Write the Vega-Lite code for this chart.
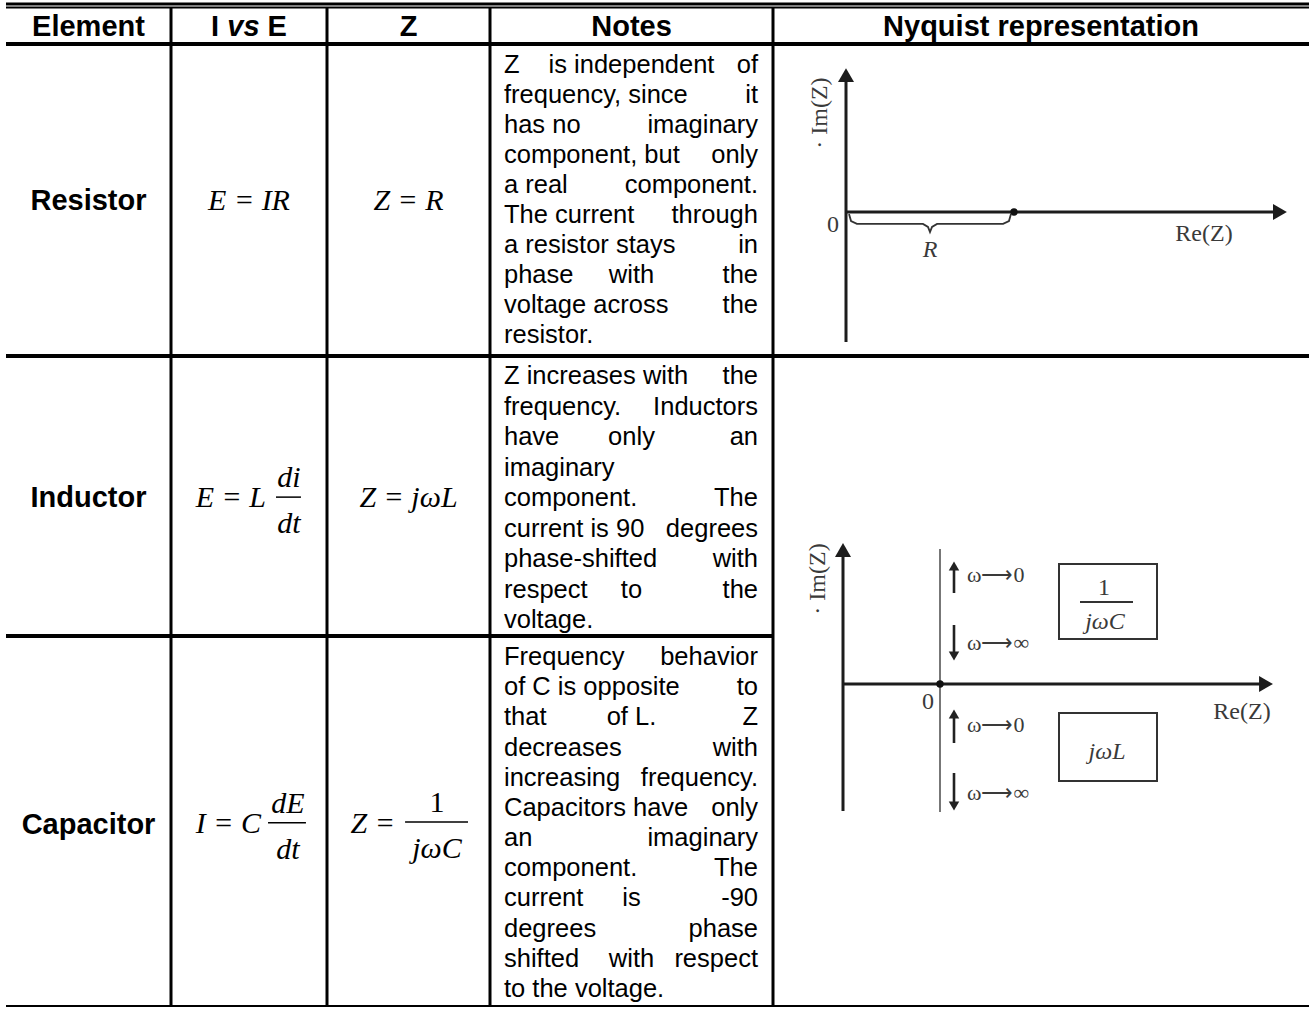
{
"$schema":"https://vega.github.io/schema/vega-lite/v6.json",
"width":1309,"height":1009,"autosize":"none","padding":0,"background":"white",
"config":{"view":{"stroke":null}},
"datasets":{
"grid":[
{"kind":"medium","c1":0,"c2":5,"r1":-1,"r2":-1},
{"kind":"light","c1":0,"c2":5,"r1":0,"r2":0},
{"kind":"heavy","c1":0,"c2":5,"r1":1,"r2":1},
{"kind":"heavy","c1":0,"c2":5,"r1":2,"r2":2},
{"kind":"heavy","c1":0,"c2":4,"r1":3,"r2":3},
{"kind":"light","c1":0,"c2":5,"r1":4,"r2":4},
{"kind":"medium","c1":1,"c2":1,"r1":0,"r2":4},
{"kind":"medium","c1":2,"c2":2,"r1":0,"r2":4},
{"kind":"medium","c1":3,"c2":3,"r1":0,"r2":4},
{"kind":"medium","c1":4,"c2":4,"r1":0,"r2":4}
],
"cells":[
{"style":"bold","text":"Element","cx":0.5,"ry":0.79},
{"style":"bold","text":"I","cx":1.282,"ry":0.79},
{"style":"bolditalic","text":"vs","cx":1.464,"ry":0.79},
{"style":"bold","text":"E","cx":1.681,"ry":0.79},
{"style":"bold","text":"Z","cx":2.5,"ry":0.79},
{"style":"bold","text":"Notes","cx":3.5,"ry":0.79},
{"style":"bold","text":"Nyquist representation","cx":4.5,"ry":0.79},
{"style":"bold","text":"Resistor","cx":0.5,"ry":1.533},
{"style":"bold","text":"Inductor","cx":0.5,"ry":2.541},
{"style":"bold","text":"Capacitor","cx":0.5,"ry":3.534},
{"style":"math","text":"E = IR","cx":1.5,"ry":1.532},
{"style":"math","text":"Z = R","cx":2.5,"ry":1.532},
{"style":"math","text":"Z = jωL","cx":2.5,"ry":2.539},
{"style":"math","text":"di","cx":1.756,"ry":2.468},
{"style":"math","text":"dt","cx":1.756,"ry":2.632},
{"style":"math","text":"dE","cx":1.75,"ry":3.478},
{"style":"math","text":"dt","cx":1.75,"ry":3.603},
{"style":"math","text":"jωC","cx":2.675,"ry":3.6},
{"style":"mathroman","text":"1","cx":2.675,"ry":3.476},
{"style":"mathright","text":"E = L","cx":1.609,"ry":2.539},
{"style":"mathright","text":"I = C","cx":1.577,"ry":3.532},
{"style":"mathright","text":"Z =","cx":2.417,"ry":3.532}
],
"bars":[
{"c1":1.673,"c2":1.833,"r":2.504},
{"c1":1.622,"c2":1.865,"r":3.505},
{"c1":2.479,"c2":2.865,"r":3.503}
],
"notes":[
{"n":1,"part":"head","text":"Z"},{"n":1,"part":"mid","text":"is independent"},{"n":1,"part":"tail","text":"of"},
{"n":2,"part":"head","text":"frequency, since"},{"n":2,"part":"tail","text":"it"},
{"n":3,"part":"head","text":"has no"},{"n":3,"part":"tail","text":"imaginary"},
{"n":4,"part":"head","text":"component, but"},{"n":4,"part":"tail","text":"only"},
{"n":5,"part":"head","text":"a real"},{"n":5,"part":"tail","text":"component."},
{"n":6,"part":"head","text":"The current"},{"n":6,"part":"tail","text":"through"},
{"n":7,"part":"head","text":"a resistor stays"},{"n":7,"part":"tail","text":"in"},
{"n":8,"part":"head","text":"phase"},{"n":8,"part":"mid","text":"with"},{"n":8,"part":"tail","text":"the"},
{"n":9,"part":"head","text":"voltage across"},{"n":9,"part":"tail","text":"the"},
{"n":10,"part":"head","text":"resistor."},
{"n":11,"part":"head","text":"Z increases with"},{"n":11,"part":"tail","text":"the"},
{"n":12,"part":"head","text":"frequency."},{"n":12,"part":"tail","text":"Inductors"},
{"n":13,"part":"head","text":"have"},{"n":13,"part":"mid","text":"only"},{"n":13,"part":"tail","text":"an"},
{"n":14,"part":"head","text":"imaginary"},
{"n":15,"part":"head","text":"component."},{"n":15,"part":"tail","text":"The"},
{"n":16,"part":"head","text":"current is 90"},{"n":16,"part":"tail","text":"degrees"},
{"n":17,"part":"head","text":"phase-shifted"},{"n":17,"part":"tail","text":"with"},
{"n":18,"part":"head","text":"respect"},{"n":18,"part":"mid","text":"to"},{"n":18,"part":"tail","text":"the"},
{"n":19,"part":"head","text":"voltage."},
{"n":20,"part":"head","text":"Frequency"},{"n":20,"part":"tail","text":"behavior"},
{"n":21,"part":"head","text":"of C is opposite"},{"n":21,"part":"tail","text":"to"},
{"n":22,"part":"head","text":"that"},{"n":22,"part":"mid","text":"of L."},{"n":22,"part":"tail","text":"Z"},
{"n":23,"part":"head","text":"decreases"},{"n":23,"part":"tail","text":"with"},
{"n":24,"part":"head","text":"increasing"},{"n":24,"part":"tail","text":"frequency."},
{"n":25,"part":"head","text":"Capacitors have"},{"n":25,"part":"tail","text":"only"},
{"n":26,"part":"head","text":"an"},{"n":26,"part":"tail","text":"imaginary"},
{"n":27,"part":"head","text":"component."},{"n":27,"part":"tail","text":"The"},
{"n":28,"part":"head","text":"current"},{"n":28,"part":"mid","text":"is"},{"n":28,"part":"tail","text":"-90"},
{"n":29,"part":"head","text":"degrees"},{"n":29,"part":"tail","text":"phase"},
{"n":30,"part":"head","text":"shifted"},{"n":30,"part":"mid","text":"with"},{"n":30,"part":"tail","text":"respect"},
{"n":31,"part":"head","text":"to the voltage."}
],
"nyq1":[
{"el":"axis","re":0,"im":0,"re2":2.56,"im2":0},
{"el":"axis","re":0,"im":-0.774,"re2":0,"im2":0.8},
{"el":"head","re":2.583,"im":0,"dir":"right"},
{"el":"head","re":0,"im":0.815,"dir":"up"},
{"el":"dot","re":1,"im":0},
{"el":"brace","k":1,"re":0.018,"im":-0.012},
{"el":"brace","k":2,"re":0.03,"im":-0.054},
{"el":"brace","k":3,"re":0.065,"im":-0.071},
{"el":"brace","k":4,"re":0.458,"im":-0.071},
{"el":"brace","k":5,"re":0.488,"im":-0.089},
{"el":"brace","k":6,"re":0.5,"im":-0.119},
{"el":"brace","k":7,"re":0.512,"im":-0.089},
{"el":"brace","k":8,"re":0.542,"im":-0.071},
{"el":"brace","k":9,"re":0.935,"im":-0.071},
{"el":"brace","k":10,"re":0.97,"im":-0.054},
{"el":"brace","k":11,"re":0.982,"im":-0.012},
{"el":"label","re":-0.077,"im":-0.077,"text":"0"},
{"el":"label","re":2.131,"im":-0.131,"text":"Re(Z)"},
{"el":"ilabel","re":0.5,"im":-0.226,"text":"R"},
{"el":"vlabel","re":-0.155,"im":0.589,"text":"· Im(Z)"}
],
"nyq2":[
{"el":"axis","re":-0.97,"im":0,"re2":3.24,"im2":0},
{"el":"axis","re":-0.97,"im":-1.27,"re2":-0.97,"im2":1.32},
{"el":"head","re":3.26,"im":0,"dir":"right"},
{"el":"head","re":-0.97,"im":1.34,"dir":"up"},
{"el":"thin","re":0,"im":-1.28,"re2":0,"im2":1.35},
{"el":"dot","re":0,"im":0},
{"el":"shaft","re":0.14,"im":0.91,"re2":0.14,"im2":1.16},
{"el":"shaft","re":0.14,"im":0.59,"re2":0.14,"im2":0.3},
{"el":"shaft","re":0.14,"im":-0.59,"re2":0.14,"im2":-0.32},
{"el":"shaft","re":0.14,"im":-0.89,"re2":0.14,"im2":-1.2},
{"el":"shead","re":0.14,"im":1.18,"dir":"up"},
{"el":"shead","re":0.14,"im":0.28,"dir":"down"},
{"el":"shead","re":0.14,"im":-0.3,"dir":"up"},
{"el":"shead","re":0.14,"im":-1.22,"dir":"down"},
{"el":"llabel","re":0.27,"im":1.09,"text":"ω⟶0"},
{"el":"llabel","re":0.27,"im":0.41,"text":"ω⟶∞"},
{"el":"llabel","re":0.27,"im":-0.41,"text":"ω⟶0"},
{"el":"llabel","re":0.27,"im":-1.09,"text":"ω⟶∞"},
{"el":"box","re":1.19,"im":1.2,"re2":2.17,"im2":0.45},
{"el":"box","re":1.19,"im":-0.29,"re2":2.17,"im2":-0.97},
{"el":"bar","re":1.4,"im":0.82,"re2":1.93,"im2":0.82},
{"el":"label","re":1.64,"im":0.96,"text":"1"},
{"el":"ilabel","re":1.65,"im":0.62,"text":"jωC"},
{"el":"ilabel","re":1.67,"im":-0.68,"text":"jωL"},
{"el":"label","re":-0.12,"im":-0.18,"text":"0"},
{"el":"label","re":3.02,"im":-0.28,"text":"Re(Z)"},
{"el":"vlabel","re":-1.22,"im":1.05,"text":"· Im(Z)"}
]
},
"layer":[
{"layer":[
{"data":{"name":"grid"},"transform":[{"filter":"datum.kind == 'heavy'"}],"mark":{"type":"rule","color":"#000","strokeWidth":4,"strokeCap":"butt"},
 "encoding":{"x":{"field":"c1","type":"quantitative","scale":{"domain":[0,1,2,3,4,5],"range":[6,171,327,490,773,1309],"zero":false,"nice":false},"axis":null},"x2":{"field":"c2"},
 "y":{"field":"r1","type":"quantitative","scale":{"domain":[-1,0,1,2,3,4],"range":[4,7.5,44,356,636,1006],"zero":false,"nice":false},"axis":null},"y2":{"field":"r2"}}},
{"data":{"name":"grid"},"transform":[{"filter":"datum.kind == 'medium'"}],"mark":{"type":"rule","color":"#000","strokeWidth":3,"strokeCap":"butt"},
 "encoding":{"x":{"field":"c1","type":"quantitative","scale":{"domain":[0,1,2,3,4,5],"range":[6,171,327,490,773,1309],"zero":false,"nice":false},"axis":null},"x2":{"field":"c2"},
 "y":{"field":"r1","type":"quantitative","scale":{"domain":[-1,0,1,2,3,4],"range":[4,7.5,44,356,636,1006],"zero":false,"nice":false},"axis":null},"y2":{"field":"r2"}}},
{"data":{"name":"grid"},"transform":[{"filter":"datum.kind == 'light'"}],"mark":{"type":"rule","color":"#000","strokeWidth":1.8,"strokeCap":"butt"},
 "encoding":{"x":{"field":"c1","type":"quantitative","scale":{"domain":[0,1,2,3,4,5],"range":[6,171,327,490,773,1309],"zero":false,"nice":false},"axis":null},"x2":{"field":"c2"},
 "y":{"field":"r1","type":"quantitative","scale":{"domain":[-1,0,1,2,3,4],"range":[4,7.5,44,356,636,1006],"zero":false,"nice":false},"axis":null},"y2":{"field":"r2"}}},
{"data":{"name":"cells"},"transform":[{"filter":"datum.style == 'bold'"}],"mark":{"type":"text","font":"Liberation Sans","fontWeight":"bold","fontSize":29,"align":"center","baseline":"alphabetic","color":"#000"},
 "encoding":{"x":{"field":"cx","type":"quantitative","scale":{"domain":[0,1,2,3,4,5],"range":[6,171,327,490,773,1309],"zero":false,"nice":false},"axis":null},
 "y":{"field":"ry","type":"quantitative","scale":{"domain":[-1,0,1,2,3,4],"range":[4,7.5,44,356,636,1006],"zero":false,"nice":false},"axis":null},"text":{"field":"text"}}},
{"data":{"name":"cells"},"transform":[{"filter":"datum.style == 'bolditalic'"}],"mark":{"type":"text","font":"Liberation Sans","fontWeight":"bold","fontStyle":"italic","fontSize":29,"align":"center","baseline":"alphabetic","color":"#000"},
 "encoding":{"x":{"field":"cx","type":"quantitative","scale":{"domain":[0,1,2,3,4,5],"range":[6,171,327,490,773,1309],"zero":false,"nice":false},"axis":null},
 "y":{"field":"ry","type":"quantitative","scale":{"domain":[-1,0,1,2,3,4],"range":[4,7.5,44,356,636,1006],"zero":false,"nice":false},"axis":null},"text":{"field":"text"}}},
{"data":{"name":"cells"},"transform":[{"filter":"datum.style == 'math'"}],"mark":{"type":"text","font":"Liberation Serif","fontStyle":"italic","fontSize":30,"align":"center","baseline":"alphabetic","color":"#000"},
 "encoding":{"x":{"field":"cx","type":"quantitative","scale":{"domain":[0,1,2,3,4,5],"range":[6,171,327,490,773,1309],"zero":false,"nice":false},"axis":null},
 "y":{"field":"ry","type":"quantitative","scale":{"domain":[-1,0,1,2,3,4],"range":[4,7.5,44,356,636,1006],"zero":false,"nice":false},"axis":null},"text":{"field":"text"}}},
{"data":{"name":"cells"},"transform":[{"filter":"datum.style == 'mathroman'"}],"mark":{"type":"text","font":"Liberation Serif","fontSize":30,"align":"center","baseline":"alphabetic","color":"#000"},
 "encoding":{"x":{"field":"cx","type":"quantitative","scale":{"domain":[0,1,2,3,4,5],"range":[6,171,327,490,773,1309],"zero":false,"nice":false},"axis":null},
 "y":{"field":"ry","type":"quantitative","scale":{"domain":[-1,0,1,2,3,4],"range":[4,7.5,44,356,636,1006],"zero":false,"nice":false},"axis":null},"text":{"field":"text"}}},
{"data":{"name":"cells"},"transform":[{"filter":"datum.style == 'mathright'"}],"mark":{"type":"text","font":"Liberation Serif","fontStyle":"italic","fontSize":30,"align":"right","baseline":"alphabetic","color":"#000"},
 "encoding":{"x":{"field":"cx","type":"quantitative","scale":{"domain":[0,1,2,3,4,5],"range":[6,171,327,490,773,1309],"zero":false,"nice":false},"axis":null},
 "y":{"field":"ry","type":"quantitative","scale":{"domain":[-1,0,1,2,3,4],"range":[4,7.5,44,356,636,1006],"zero":false,"nice":false},"axis":null},"text":{"field":"text"}}},
{"data":{"name":"bars"},"mark":{"type":"rule","color":"#000","strokeWidth":1.5},
 "encoding":{"x":{"field":"c1","type":"quantitative","scale":{"domain":[0,1,2,3,4,5],"range":[6,171,327,490,773,1309],"zero":false,"nice":false},"axis":null},"x2":{"field":"c2"},
 "y":{"field":"r","type":"quantitative","scale":{"domain":[-1,0,1,2,3,4],"range":[4,7.5,44,356,636,1006],"zero":false,"nice":false},"axis":null}}}
]},
{"data":{"name":"notes"},"layer":[
{"transform":[{"filter":"datum.part == 'head'"}],"mark":{"type":"text","font":"Liberation Sans","fontSize":25.5,"align":"left","baseline":"alphabetic","dx":14,"color":"#000"},
 "encoding":{"x":{"datum":3,"type":"quantitative","scale":{"domain":[0,1,2,3,4,5],"range":[6,171,327,490,773,1309],"zero":false,"nice":false},"axis":null},
 "y":{"field":"n","type":"quantitative","scale":{"domain":[1,10,11,19,20,31],"range":[73,343,384,628,665,997],"zero":false,"nice":false},"axis":null},"text":{"field":"text"}}},
{"transform":[{"filter":"datum.part == 'mid'"}],"mark":{"type":"text","font":"Liberation Sans","fontSize":25.5,"align":"center","baseline":"alphabetic","color":"#000"},
 "encoding":{"x":{"datum":3.5,"type":"quantitative","scale":{"domain":[0,1,2,3,4,5],"range":[6,171,327,490,773,1309],"zero":false,"nice":false},"axis":null},
 "y":{"field":"n","type":"quantitative","scale":{"domain":[1,10,11,19,20,31],"range":[73,343,384,628,665,997],"zero":false,"nice":false},"axis":null},"text":{"field":"text"}}},
{"transform":[{"filter":"datum.part == 'tail'"}],"mark":{"type":"text","font":"Liberation Sans","fontSize":25.5,"align":"right","baseline":"alphabetic","dx":-15,"color":"#000"},
 "encoding":{"x":{"datum":4,"type":"quantitative","scale":{"domain":[0,1,2,3,4,5],"range":[6,171,327,490,773,1309],"zero":false,"nice":false},"axis":null},
 "y":{"field":"n","type":"quantitative","scale":{"domain":[1,10,11,19,20,31],"range":[73,343,384,628,665,997],"zero":false,"nice":false},"axis":null},"text":{"field":"text"}}}
]},
{"data":{"name":"nyq1"},
 "encoding":{"x":{"field":"re","type":"quantitative","scale":{"domain":[0,1],"range":[846,1014],"zero":false,"nice":false},"axis":null},
 "y":{"field":"im","type":"quantitative","scale":{"domain":[0,1],"range":[212,44],"zero":false,"nice":false},"axis":null}},
 "layer":[
{"transform":[{"filter":"datum.el == 'axis'"}],"mark":{"type":"rule","color":"#1c1c1c","strokeWidth":3},"encoding":{"x2":{"field":"re2"},"y2":{"field":"im2"}}},
{"transform":[{"filter":"datum.el == 'head'"}],"mark":{"type":"point","filled":true,"size":256,"color":"#1c1c1c","opacity":1,"strokeWidth":0},
 "encoding":{"shape":{"field":"dir","type":"nominal","scale":{"domain":["up","down","right"],"range":["triangle-up","triangle-down","triangle-right"]},"legend":null}}},
{"transform":[{"filter":"datum.el == 'dot'"}],"mark":{"type":"circle","size":55,"color":"#111","opacity":1}},
{"transform":[{"filter":"datum.el == 'brace'"}],"mark":{"type":"line","color":"#333","strokeWidth":1.8},"encoding":{"order":{"field":"k","type":"quantitative"}}},
{"transform":[{"filter":"datum.el == 'label'"}],"mark":{"type":"text","font":"Liberation Serif","fontSize":24,"align":"center","baseline":"middle","color":"#3a3a3a"},"encoding":{"text":{"field":"text"}}},
{"transform":[{"filter":"datum.el == 'ilabel'"}],"mark":{"type":"text","font":"Liberation Serif","fontStyle":"italic","fontSize":24,"align":"center","baseline":"middle","color":"#3a3a3a"},"encoding":{"text":{"field":"text"}}},
{"transform":[{"filter":"datum.el == 'vlabel'"}],"mark":{"type":"text","font":"Liberation Serif","fontSize":24,"align":"center","baseline":"middle","angle":270,"color":"#3a3a3a"},"encoding":{"text":{"field":"text"}}}
]},
{"data":{"name":"nyq2"},
 "encoding":{"x":{"field":"re","type":"quantitative","scale":{"domain":[0,1],"range":[940,1040],"zero":false,"nice":false},"axis":null},
 "y":{"field":"im","type":"quantitative","scale":{"domain":[0,1],"range":[684,584],"zero":false,"nice":false},"axis":null}},
 "layer":[
{"transform":[{"filter":"datum.el == 'axis'"}],"mark":{"type":"rule","color":"#1c1c1c","strokeWidth":3},"encoding":{"x2":{"field":"re2"},"y2":{"field":"im2"}}},
{"transform":[{"filter":"datum.el == 'thin'"}],"mark":{"type":"rule","color":"#555","strokeWidth":1.6},"encoding":{"x2":{"field":"re2"},"y2":{"field":"im2"}}},
{"transform":[{"filter":"datum.el == 'shaft'"}],"mark":{"type":"rule","color":"#222","strokeWidth":2.6},"encoding":{"x2":{"field":"re2"},"y2":{"field":"im2"}}},
{"transform":[{"filter":"datum.el == 'bar'"}],"mark":{"type":"rule","color":"#333","strokeWidth":2},"encoding":{"x2":{"field":"re2"},"y2":{"field":"im2"}}},
{"transform":[{"filter":"datum.el == 'box'"}],"mark":{"type":"rect","fillOpacity":0,"stroke":"#333","strokeWidth":2},"encoding":{"x2":{"field":"re2"},"y2":{"field":"im2"}}},
{"transform":[{"filter":"datum.el == 'head'"}],"mark":{"type":"point","filled":true,"size":256,"color":"#1c1c1c","opacity":1,"strokeWidth":0},
 "encoding":{"shape":{"field":"dir","type":"nominal","scale":{"domain":["up","down","right"],"range":["triangle-up","triangle-down","triangle-right"]},"legend":null}}},
{"transform":[{"filter":"datum.el == 'shead'"}],"mark":{"type":"point","filled":true,"size":110,"color":"#222","opacity":1,"strokeWidth":0},
 "encoding":{"shape":{"field":"dir","type":"nominal","scale":{"domain":["up","down","right"],"range":["triangle-up","triangle-down","triangle-right"]},"legend":null}}},
{"transform":[{"filter":"datum.el == 'dot'"}],"mark":{"type":"circle","size":55,"color":"#111","opacity":1}},
{"transform":[{"filter":"datum.el == 'label'"}],"mark":{"type":"text","font":"Liberation Serif","fontSize":24,"align":"center","baseline":"middle","color":"#3a3a3a"},"encoding":{"text":{"field":"text"}}},
{"transform":[{"filter":"datum.el == 'ilabel'"}],"mark":{"type":"text","font":"Liberation Serif","fontStyle":"italic","fontSize":24,"align":"center","baseline":"middle","color":"#3a3a3a"},"encoding":{"text":{"field":"text"}}},
{"transform":[{"filter":"datum.el == 'llabel'"}],"mark":{"type":"text","font":"Liberation Serif","fontSize":22,"align":"left","baseline":"middle","color":"#3a3a3a"},"encoding":{"text":{"field":"text"}}},
{"transform":[{"filter":"datum.el == 'vlabel'"}],"mark":{"type":"text","font":"Liberation Serif","fontSize":24,"align":"center","baseline":"middle","angle":270,"color":"#3a3a3a"},"encoding":{"text":{"field":"text"}}}
]}
],
"resolve":{"scale":{"x":"independent","y":"independent"}}
}
